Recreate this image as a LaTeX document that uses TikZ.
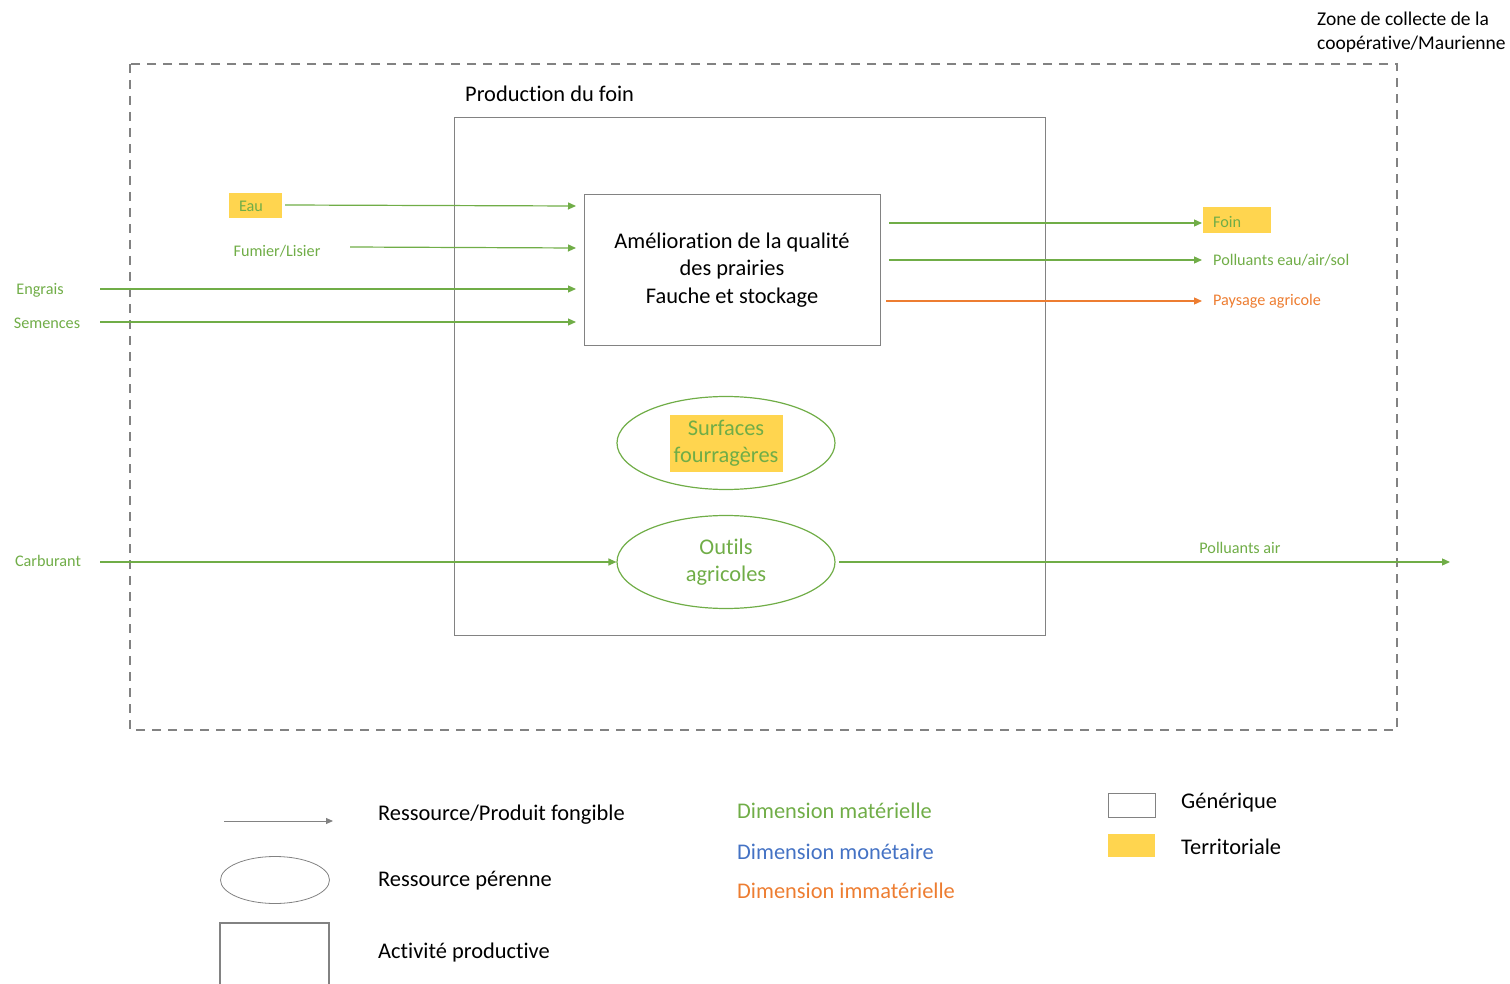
\documentclass[tikz,border=0pt]{standalone}
\usepackage{fontspec}
\setmainfont[Ligatures=NoCommon]{Carlito}
\usetikzlibrary{arrows.meta,shapes.geometric}
\definecolor{cgreen}{RGB}{112,173,71}
\definecolor{corange}{RGB}{237,125,49}
\definecolor{cblue}{RGB}{68,114,196}
\definecolor{cyellow}{RGB}{255,213,79}
\definecolor{cgray}{RGB}{130,130,130}
\tikzset{
  lbl/.style={inner sep=0pt, font=\fontsize{16.2}{19}\selectfont},
  big/.style={inner sep=0pt, font=\fontsize{22.4}{27}\selectfont},
  flow/.style={draw=cgreen, line width=1.2pt, -{Triangle[width=7pt,length=8pt]}},
  oflow/.style={draw=corange, line width=1.2pt, -{Triangle[width=7pt,length=8pt]}},
  res/.style={ellipse, draw=cgreen, line width=1.2pt, minimum width=218pt, minimum height=93pt, inner sep=0pt, text=cgreen, align=center, font=\fontsize{22.4}{27}\selectfont},
}
\begin{document}
\begin{tikzpicture}[x=1pt,y=-1pt]
\useasboundingbox (0,0) rectangle (1510,984);
% outer zone
\draw[cgray, line width=1.8pt, dash pattern=on 9pt off 7pt] (130,64) rectangle (1397,730);
\node[inner sep=0pt, anchor=north west, align=left, font=\fontsize{19.5}{24}\selectfont] (zone) at (1317,12) {Zone de collecte de la\\coopérative/Maurienne};
% production box
\draw[cgray, line width=1pt] (454,118) rectangle (1045,635);
\node[big, anchor=west] (prod) at (465,94) {Production du foin};
% activity
\node[draw=cgray, line width=1pt, minimum width=296pt, minimum height=150pt, inner sep=0pt, align=center, font=\fontsize{22.4}{27.5}\selectfont] (act) at (732,270) {Amélioration de la qualité\\des prairies\\Fauche et stockage};
% inputs
\fill[cyellow] (229,193) rectangle (282,218);
\node[lbl, text=cgreen] (eau) at (251,206) {Eau};
\coordinate (eauS) at (285,205);
\coordinate (eauE) at (576,206);
\draw[flow] (eauS) -- (eauE);
\node[lbl, text=cgreen] (fum) at (277,251) {Fumier/Lisier};
\coordinate (fumS) at (350,247);
\coordinate (fumE) at (576,248);
\draw[flow] (fumS) -- (fumE);
\node[lbl, text=cgreen] (eng) at (40,290) {Engrais};
\coordinate (engS) at (100,289);
\coordinate (engE) at (576,289);
\draw[flow] (engS) -- (engE);
\node[lbl, text=cgreen] (sem) at (47,323) {Semences};
\coordinate (semS) at (100,322);
\coordinate (semE) at (576,322);
\draw[flow] (semS) -- (semE);
% outputs
\fill[cyellow] (1203,207) rectangle (1271,233);
\node[lbl, text=cgreen, anchor=west] (foin) at (1213,222) {Foin};
\coordinate (foinS) at (889,223);
\coordinate (foinE) at (1202,223);
\draw[flow] (foinS) -- (foinE);
\node[lbl, text=cgreen, anchor=west] (pol) at (1213,260) {Polluants eau/air/sol};
\coordinate (polS) at (889,260);
\coordinate (polE) at (1202,260);
\draw[flow] (polS) -- (polE);
\node[lbl, text=corange, anchor=west] (pay) at (1213,301) {Paysage agricole};
\coordinate (payS) at (886,301);
\coordinate (payE) at (1202,301);
\draw[oflow] (payS) -- (payE);
% resources
\fill[cyellow] (670,415) rectangle (783,472);
\node[res] (surf) at (726,443) {Surfaces\\fourragères};
\node[res] (out) at (726,562) {Outils\\agricoles};
\node[lbl, text=cgreen] (carb) at (48,561) {Carburant};
\coordinate (carbS) at (100,562);
\draw[flow] (carbS) -- (out.west);
\coordinate (polaE) at (1450,562);
\coordinate (outS) at (839,562);
\draw[flow] (outS) -- (polaE);
\node[lbl, text=cgreen] (pola) at (1240,548) {Polluants air};
% legend
\coordinate (legA) at (224,821);
\coordinate (legB) at (333,821);
\draw[cgray, line width=1pt, -{Triangle[width=6pt,length=7pt]}] (legA) -- (legB);
\node[big, anchor=west] (l1) at (378,815) {Ressource/Produit fongible};
\node[ellipse, draw=cgray, line width=0.8pt, minimum width=109pt, minimum height=47pt, inner sep=0pt] (lell) at (275,880) {};
\node[big, anchor=west] (l2) at (378,881) {Ressource pérenne};
\draw[cgray, line width=1.5pt] (220,990) -- (220,923) -- (329,923) -- (329,990);
\node[big, anchor=west] (l3) at (378,953) {Activité productive};
\node[big, anchor=west, text=cgreen] (d1) at (737,811) {Dimension matérielle};
\node[big, anchor=west, text=cblue] (d2) at (737,852) {Dimension monétaire};
\node[big, anchor=west, text=corange] (d3) at (737,891) {Dimension immatérielle};
\draw[cgray, line width=1pt] (1108,793) rectangle (1155,817);
\fill[cyellow] (1108,834) rectangle (1155,857);
\node[big, anchor=west] (g1) at (1181,803) {Générique};
\node[big, anchor=west] (g2) at (1181,847) {Territoriale};
\end{tikzpicture}
\end{document}
